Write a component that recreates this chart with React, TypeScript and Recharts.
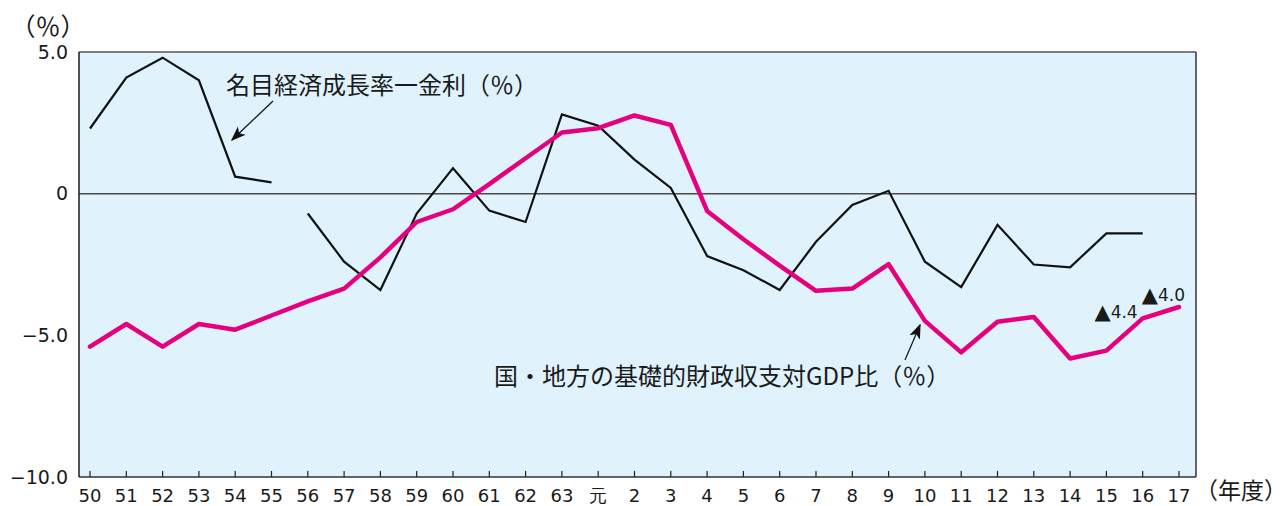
import { LineChart, Line, XAxis, YAxis, CartesianGrid, ReferenceLine, LabelList } from 'recharts';

// fiscal years (Showa 50-63, Heisei 元-17)
const years = [
  '50', '51', '52', '53', '54', '55', '56', '57', '58', '59', '60', '61', '62', '63',
  '元', '2', '3', '4', '5', '6', '7', '8', '9', '10', '11', '12', '13', '14', '15', '16', '17',
];

// 名目経済成長率−金利 (%), series breaks between 55 and 56
const growthGapOld = [2.3, 4.1, 4.8, 4.0, 0.6, 0.4]; // 50-55
const growthGapNew = [
  -0.7, -2.4, -3.4, -0.7, 0.9, -0.6, -1.0, 2.8, 2.4, 1.2, 0.2, -2.2,
  -2.7, -3.4, -1.7, -0.4, 0.1, -2.4, -3.3, -1.1, -2.5, -2.6, -1.4, -1.4,
]; // 56-16

// 国・地方の基礎的財政収支対GDP比 (%)
const primaryBalance = [
  -5.4, -4.6, -5.4, -4.6, -4.8, -4.3, -3.8, -3.35, -2.25, -1.0, -0.55,
  0.34, 1.25, 2.16, 2.31, 2.76, 2.43, -0.61, -1.61, -2.54, -3.43,
  -3.35, -2.49, -4.49, -5.6, -4.52, -4.35, -5.82, -5.54, -4.4, -4.0,
];

const yTicks = [-10, -5, 0, 5];

const NEW_START = growthGapOld.length;

const data = years.map((year, i) => ({
  year,
  gapOld: i < NEW_START ? growthGapOld[i] : null,
  gapNew: i >= NEW_START && i - NEW_START < growthGapNew.length ? growthGapNew[i - NEW_START] : null,
  balance: primaryBalance[i],
}));

const NUM_FONT = '"DejaVu Sans", "Liberation Sans", sans-serif';
const JP_FONT = '"Noto Sans CJK JP", "Noto Sans", sans-serif';
const PINK = '#e4007f';

const fmtY = (v: number) => (v === 0 ? '0' : (v < 0 ? '\u2212' : '') + Math.abs(v).toFixed(1));

const XTick = (props: any) => {
  const { x, y, payload } = props;
  return (
    <g>
      <line x1={x} y1={y} x2={x} y2={y - 6} stroke="#222" strokeWidth={1.2} />
      <text x={x} y={y + 24.5} textAnchor="middle" fontFamily={NUM_FONT} fontSize={18} fill="#1a1a1a">
        {payload.value}
      </text>
    </g>
  );
};

// only the last two deficits get a ▲ value label
const deficitLabel = (props: any) => {
  const { x, y, value, index } = props;
  if (index < years.length - 2) return null;
  const last = index === years.length - 1;
  return (
    <text
      x={last ? x + 6 : x - 5}
      y={last ? y - 12 : y - 6}
      textAnchor="end"
      dominantBaseline="central"
      fontFamily={NUM_FONT}
      fontSize={17}
      fill="#1a1a1a"
    >
      <tspan fontSize={21}>▲</tspan>
      {Math.abs(value).toFixed(1)}
    </text>
  );
};

export default function App() {
  return (
    <div style={{ position: 'absolute', left: 0, top: 0, width: 1286, height: 506, background: '#fff' }}>
      <LineChart width={1286} height={506} data={data} margin={{ top: 52, right: 0, bottom: 0, left: 0 }}>
        <CartesianGrid fill="#e0f2fc" horizontal={false} vertical={false} />
        <XAxis
          dataKey="year"
          height={29}
          padding={{ left: 11, right: 17 }}
          interval={0}
          tickLine={false}
          tickSize={0}
          tickMargin={0}
          axisLine={{ stroke: '#333', strokeWidth: 1.5 }}
          tick={<XTick />}
        />
        <YAxis
          width={79}
          domain={[-10, 5]}
          ticks={yTicks}
          tickFormatter={fmtY}
          tickLine={false}
          tickSize={0}
          tickMargin={11}
          axisLine={{ stroke: '#1a1a1a', strokeWidth: 1.5 }}
          tick={{ fontFamily: NUM_FONT, fontSize: 19, fill: '#1a1a1a' }}
          allowDataOverflow
        />
        <YAxis yAxisId="frame" orientation="right" width={90} tick={false} tickLine={false} axisLine={{ stroke: '#333', strokeWidth: 1.5 }} />
        <ReferenceLine y={5} stroke="#555" strokeWidth={1.5} />
        <ReferenceLine y={0} stroke="#4a4a4a" strokeWidth={1.5} />
        <Line
          dataKey="gapOld"
          stroke="#111"
          strokeWidth={2.2}
          dot={false}
          connectNulls={false}
          isAnimationActive={false}
        />
        <Line
          dataKey="gapNew"
          stroke="#111"
          strokeWidth={2.2}
          dot={false}
          connectNulls={false}
          isAnimationActive={false}
        />
        <Line
          dataKey="balance"
          stroke={PINK}
          strokeWidth={4.5}
          strokeLinejoin="round"
          strokeLinecap="round"
          dot={false}
          isAnimationActive={false}
        >
          <LabelList dataKey="balance" content={deficitLabel} />
        </Line>
      </LineChart>

      <svg
        width={1286}
        height={506}
        style={{ position: 'absolute', left: 0, top: 0, pointerEvents: 'none' }}
      >
        <defs>
          <marker id="arrow" viewBox="0 0 10 10" refX="9" refY="5" markerWidth="15" markerHeight="15" orient="auto-start-reverse" markerUnits="userSpaceOnUse">
            <path d="M0,1.2 L10,5 L0,8.8 L2.5,5 Z" fill="#111" />
          </marker>
        </defs>
        <text x={48} y={25} textAnchor="middle" dominantBaseline="central" fontFamily={JP_FONT} fontSize={25} fill="#1a1a1a">
          （％）
        </text>
        <text x={1241} y={489} textAnchor="middle" dominantBaseline="central" fontFamily={JP_FONT} fontSize={23} fill="#1a1a1a">
          （年度）
        </text>
        <text x={226} y={83} dominantBaseline="central" fontFamily={JP_FONT} fontSize={24} fill="#1a1a1a">
          名目経済成長率一金利（％）
        </text>
        <line x1={273} y1={101} x2={232} y2={140} stroke="#111" strokeWidth={1.2} markerEnd="url(#arrow)" />
        <text x={494} y={374} dominantBaseline="central" fontFamily={JP_FONT} fontSize={24} fill="#1a1a1a">
          国・地方の基礎的財政収支対GDP比（％）
        </text>
        <line x1={905} y1={360} x2={920} y2={325} stroke="#111" strokeWidth={1.2} markerEnd="url(#arrow)" />
      </svg>
    </div>
  );
}
